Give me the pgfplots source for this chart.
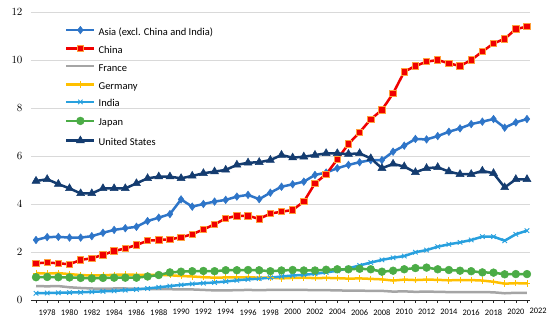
\documentclass[border=0pt]{standalone}
\usepackage{pgfplots}
\pgfplotsset{compat=1.18}
\usepackage{pgfplotstable}
\usepackage{fontspec}
\setmainfont{Carlito}
\definecolor{casia}{RGB}{46,117,200}
\definecolor{cchina}{RGB}{240,0,0}
\definecolor{cchinaedge}{RGB}{255,160,60}
\definecolor{cfrance}{RGB}{165,165,165}
\definecolor{cgermany}{RGB}{255,192,0}
\definecolor{cindia}{RGB}{40,160,222}
\definecolor{cjapan}{RGB}{75,172,70}
\definecolor{cus}{RGB}{20,60,112}
\definecolor{cgrid}{RGB}{217,217,217}
\pgfplotstableread{
year asia china france germany india japan us
1977 2.50 1.53 0.58 1.12 0.28 0.95 4.96
1978 2.62 1.56 0.57 1.10 0.29 0.96 5.03
1979 2.63 1.53 0.58 1.12 0.30 0.95 4.83
1980 2.60 1.49 0.53 1.08 0.31 0.94 4.65
1981 2.60 1.67 0.50 1.04 0.32 0.92 4.44
1982 2.66 1.74 0.48 1.02 0.34 0.90 4.44
1983 2.80 1.88 0.47 1.03 0.36 0.92 4.65
1984 2.92 2.04 0.48 1.05 0.38 0.93 4.65
1985 2.99 2.15 0.48 1.06 0.41 0.93 4.65
1986 3.05 2.29 0.47 1.05 0.44 0.93 4.86
1987 3.29 2.47 0.46 1.04 0.48 0.98 5.07
1988 3.43 2.50 0.45 1.05 0.53 1.04 5.14
1989 3.58 2.53 0.45 1.03 0.58 1.15 5.14
1990 4.19 2.61 0.44 1.00 0.63 1.18 5.07
1991 3.89 2.74 0.44 0.98 0.67 1.20 5.17
1992 4.00 2.94 0.42 0.95 0.70 1.21 5.28
1993 4.10 3.15 0.40 0.93 0.73 1.20 5.35
1994 4.17 3.40 0.40 0.94 0.77 1.24 5.42
1995 4.31 3.51 0.41 0.94 0.82 1.24 5.63
1996 4.38 3.51 0.42 0.95 0.86 1.25 5.72
1997 4.20 3.38 0.41 0.93 0.89 1.24 5.74
1998 4.47 3.60 0.42 0.93 0.93 1.20 5.83
1999 4.72 3.68 0.42 0.90 0.98 1.23 6.04
2000 4.82 3.75 0.42 0.92 1.02 1.25 5.93
2001 4.93 4.10 0.42 0.93 1.05 1.23 5.97
2002 5.21 4.86 0.41 0.91 1.09 1.23 6.04
2003 5.31 5.24 0.41 0.92 1.15 1.26 6.11
2004 5.49 5.86 0.40 0.91 1.22 1.28 6.11
2005 5.63 6.50 0.39 0.89 1.32 1.28 6.08
2006 5.74 6.99 0.39 0.90 1.44 1.30 6.11
2007 5.83 7.53 0.38 0.88 1.56 1.28 5.90
2008 5.83 7.92 0.38 0.86 1.67 1.18 5.49
2009 6.18 8.61 0.35 0.81 1.76 1.22 5.67
2010 6.43 9.51 0.36 0.85 1.83 1.28 5.56
2011 6.71 9.75 0.34 0.83 1.99 1.33 5.32
2012 6.69 9.93 0.35 0.85 2.08 1.35 5.49
2013 6.83 10.00 0.34 0.84 2.22 1.28 5.53
2014 7.01 9.86 0.33 0.82 2.32 1.25 5.35
2015 7.15 9.75 0.33 0.83 2.40 1.22 5.24
2016 7.33 10.00 0.33 0.83 2.50 1.20 5.24
2017 7.43 10.35 0.33 0.81 2.64 1.15 5.38
2018 7.54 10.69 0.32 0.76 2.64 1.14 5.28
2019 7.18 10.88 0.28 0.68 2.47 1.07 4.69
2020 7.40 11.29 0.30 0.70 2.74 1.08 5.03
2021 7.54 11.39 0.30 0.69 2.89 1.08 5.03
}\data
\begin{document}
\begin{tikzpicture}
\useasboundingbox (-31pt,-21pt) rectangle (519pt,300pt);
\begin{axis}[
  scale only axis, width=499pt, height=288pt,
  at={(0pt,0pt)}, anchor=south west,
  xmin=1976.55, xmax=2021.27, ymin=0, ymax=12,
  clip=false,
  axis x line*=bottom, axis y line*=left,
  y axis line style={draw=none},
  x axis line style={draw=black!85, line width=0.8pt},
  xtick={1978,1980,...,2020},
  minor xtick={1977,1979,...,2021},
  xticklabel={\pgfmathprintnumber[assume math mode=true,1000 sep={}]{\tick}},
  x tick label style={font=\fontsize{8.4}{10}\selectfont, yshift=-3pt},
  xtick style={draw=black!85, line width=0.6pt},
  minor x tick style={draw=black!85, line width=0.6pt},
  tickwidth=3pt, subtickwidth=3pt,
  xtick align=outside,
  ytick={0,2,...,12},
  ytick style={draw=none},
  y tick label style={font=\fontsize{11}{13}\selectfont, xshift=-5pt},
  ymajorgrids, grid style={draw=cgrid, line width=0.8pt},
  legend cell align=left,
  legend image code/.code={\draw[mark repeat=2,mark phase=2,#1] plot coordinates {(0pt,2.5pt) (14pt,2.5pt) (28pt,2.5pt)};},
  legend style={at={(axis description cs:0.068,0.951)}, anchor=north west, draw=none, fill=none,
    font=\fontsize{10.5}{12}\selectfont, inner sep=0pt, row sep=7.6pt, column sep=3pt,
    nodes={inner sep=0pt, text height=7.5pt, text depth=2.5pt}},
  every axis plot/.append style={line width=2.5pt},
]
\addplot[color=casia, mark=diamond*, mark size=3.8pt, mark options={solid, line width=0.5pt, fill=casia}] table[x=year,y=asia]{\data};
\addlegendentry{Asia (excl. China and India)}
\addplot[color=cchina, mark=square*, mark size=3.2pt, mark options={solid, line width=0.9pt, draw=cchinaedge, fill=cchina}] table[x=year,y=china]{\data};
\addlegendentry{China}
\addplot[color=cfrance, no marks] table[x=year,y=france]{\data};
\addlegendentry{France}
\addplot[color=cgermany, mark=+, mark size=3.2pt, mark options={solid, line width=0.8pt}] table[x=year,y=germany]{\data};
\addlegendentry{Germany}
\addplot[color=cindia, mark=x, mark size=3.2pt, mark options={solid, line width=0.9pt}] table[x=year,y=india]{\data};
\addlegendentry{India}
\addplot[color=cjapan, mark=*, mark size=3.9pt, mark options={solid, line width=0.5pt, fill=cjapan}] table[x=year,y=japan]{\data};
\addlegendentry{Japan}
\addplot[color=cus, mark=triangle*, mark size=4.6pt, mark options={solid, line width=0.5pt, fill=cus}] table[x=year,y=us]{\data};
\addlegendentry{United States}
\node[anchor=north, font=\fontsize{8.4}{10}\selectfont, inner sep=0pt] at ([yshift=-8.2pt]axis cs:2022,0) {2022};
\end{axis}
\end{tikzpicture}
\end{document}
